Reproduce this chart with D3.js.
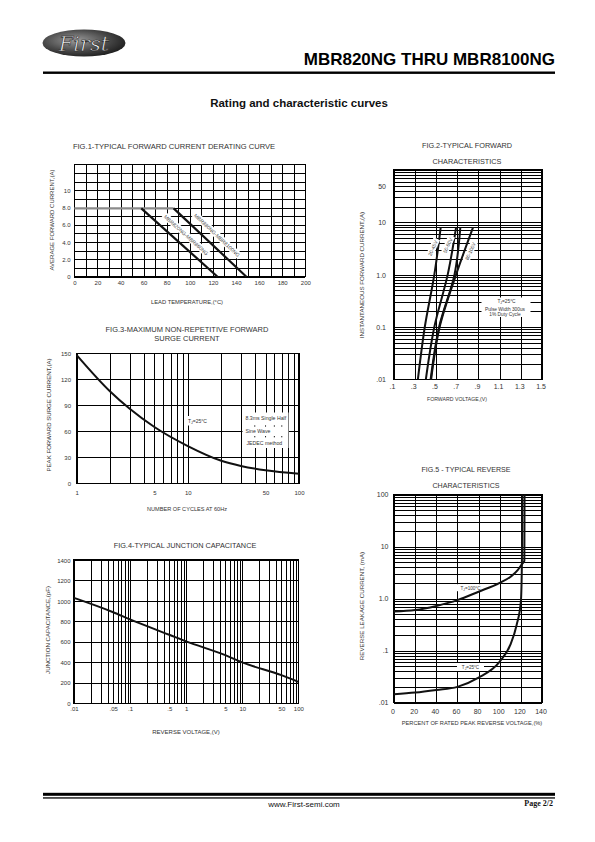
<!DOCTYPE html>
<html><head><meta charset="utf-8">
<script src="https://cdn.jsdelivr.net/npm/d3@7/dist/d3.min.js"></script>
<style>html,body{margin:0;padding:0;background:#fff;}svg{display:block}</style>
</head><body>
<svg id="page" width="595" height="842" xmlns="http://www.w3.org/2000/svg"></svg>
<script>
// ================= DATA =================
// Fig.1 – forward current derating
const fig1TempTicks = [0,20,40,60,80,100,120,140,160,180,200];
const fig1CurrentTicks = [0,2,4,6,8,10];
const fig1CurrentTickLabels = ["0","2.0","4.0","6.0","8.0","10"];
const fig1SeriesNames = ["MBR820NG-MBR860NG","MBR880NG-MBR8100NG"];
const fig1FlatTemp = [0, 86];
const fig1FlatCurrent = [7.9, 7.9];
const fig1LowTemp = [58, 124];
const fig1LowCurrent = [7.9, 0];
const fig1HighTemp = [86, 149];
const fig1HighCurrent = [7.9, 0];

// Fig.2 – forward characteristics
const fig2VoltTicks = [0.1,0.3,0.5,0.7,0.9,1.1,1.3,1.5];
const fig2VoltTickLabels = [".1",".3",".5",".7",".9","1.1","1.3","1.5"];
const fig2CurrentTicks = [50,10,1,0.1,0.01];
const fig2CurrentTickLabels = ["50","10","1.0","0.1",".01"];
const fig2Current = [0.01,0.1,1,8];
const fig2Volt20to45 = [0.33,0.395,0.485,0.545];
const fig2Volt50to60 = [0.405,0.485,0.611,0.69];
const fig2Volt50to60b = [0.45,0.53,0.675,0.73];
const fig2Volt80to100 = [0.455,0.535,0.69,0.85];
const fig2SeriesNames = ["20-45V","50-60V","80-100V"];

// Fig.3 – surge current
const fig3CycleTicks = [1,5,10,50,100];
const fig3CycleTickLabels = ["1","5","10","50","100"];
const fig3CurrentTicks = [0,30,60,90,120,150];
const fig3Cycles = [1,2,3,5,10,20,30,50,100];
const fig3Current = [148,106,86,65,43,26,20,15,11];

// Fig.4 – junction capacitance
const fig4VoltTicks = [0.01,0.05,0.1,0.5,1,5,10,50,100];
const fig4VoltTickLabels = [".01",".05",".1",".5","1","5","10","50","100"];
const fig4CapTicks = [0,200,400,600,800,1000,1200,1400];
const fig4Volt = [0.01,0.05,0.1,0.5,1,5,10,50,100];
const fig4Cap = [1030,890,820,670,605,470,400,275,210];

// Fig.5 – reverse characteristics
const fig5PctTicks = [0,20,40,60,80,100,120,140];
const fig5CurrentTicks = [100,10,1,0.1,0.01];
const fig5CurrentTickLabels = ["100","10","1.0",".1",".01"];
const fig5Pct100 = [0,20,40,60,80,100,110,117,121,123.3,123.5];
const fig5Cur100 = [0.56,0.6,0.72,0.93,1.35,2.0,2.6,3.5,4.6,5.3,100];
const fig5Pct25 = [0,20,40,60,80,100,110,116,120,121,121.4];
const fig5Cur25 = [0.0144,0.0155,0.0174,0.02,0.03,0.061,0.128,0.31,0.87,5,100];

// ================= DRAWING =================
const FONT = "'Liberation Sans', Arial, Helvetica, sans-serif";
const INK = "#333";
const svg = d3.select("#page");
const zip = (a,b) => a.map((v,i)=>[v,b[i]]);

function logGrid(lo, hi){
  const v=[];
  for(let e=Math.round(Math.log10(lo)); Math.pow(10,e) < hi*0.999; e++){
    for(let m=1;m<10;m++) v.push(+(m*Math.pow(10,e)).toPrecision(6));
  }
  v.push(hi); return v;
}
function text(g, x, y, s, size, anchor="start", extra={}){
  const t = g.append("text").attr("x",x).attr("y",y).attr("font-size",size)
    .attr("font-family",FONT).attr("text-anchor",anchor).attr("fill",extra.fill||INK).text(s);
  if(extra.weight) t.attr("font-weight",extra.weight);
  return t;
}
function tj(g, x, y, rest, size, anchor="middle"){
  const t = g.append("text").attr("x",x).attr("y",y).attr("font-size",size)
    .attr("font-family",FONT).attr("text-anchor",anchor).attr("fill",INK);
  t.append("tspan").text("T");
  t.append("tspan").attr("font-size",size*0.7).attr("dy",size*0.25).text("J");
  t.append("tspan").attr("dy",-size*0.25).text(rest);
  return t;
}
function grid(x, y, xVals, yVals){
  const [xa,xb]=x.range(), [ya,yb]=y.range();
  const g = svg.append("g");
  const style = s => { s.select(".domain").remove();
    s.selectAll(".tick line").attr("stroke","#000").attr("stroke-width",1).attr("shape-rendering","crispEdges"); };
  g.append("g").attr("transform",`translate(0,${ya})`)
    .call(d3.axisBottom(x).tickValues(xVals).tickSize(-(ya-yb)).tickFormat("")).call(style);
  g.append("g").attr("transform",`translate(${xa},0)`)
    .call(d3.axisLeft(y).tickValues(yVals).tickSize(-(xb-xa)).tickFormat("")).call(style);
  g.append("rect").attr("x",xa).attr("y",yb).attr("width",xb-xa).attr("height",ya-yb)
    .attr("fill","none").attr("stroke","#000").attr("stroke-width",1.4).attr("shape-rendering","crispEdges");
  return g;
}
function xLabels(x, vals, labels, baseY, size, dx=0){
  svg.append("g").attr("transform",`translate(${dx},${baseY})`)
    .call(d3.axisBottom(x).tickValues(vals).tickSize(0).tickPadding(0).tickFormat((d,i)=>labels[i]))
    .call(s=>{ s.select(".domain").remove();
      s.selectAll("text").attr("y",0).attr("dy",null).attr("font-size",size).attr("font-family",FONT).attr("fill",INK); });
}
function yLabels(y, vals, labels, rightX, size){
  svg.append("g").attr("transform",`translate(${rightX},0)`)
    .call(d3.axisLeft(y).tickValues(vals).tickSize(0).tickPadding(0).tickFormat((d,i)=>labels[i]))
    .call(s=>{ s.select(".domain").remove();
      s.selectAll("text").attr("x",0).attr("dy","0.35em").attr("font-size",size).attr("font-family",FONT).attr("fill",INK); });
}
function yTitle(x, y, s, size){
  text(svg, 0, 0, s, size, "middle").attr("transform",`translate(${x},${y}) rotate(-90)`);
}
function curve(x, y, pts, w=2, color="#111", kind=d3.curveMonotoneX){
  svg.append("path").datum(pts)
    .attr("d", d3.line().x(d=>x(d[0])).y(d=>y(d[1])).curve(kind))
    .attr("fill","none").attr("stroke",color).attr("stroke-width",w).attr("stroke-linecap","butt");
}
function boxedLabel(cx, cy, angle, s, size){
  const g = svg.append("g").attr("transform",`translate(${cx},${cy}) rotate(${angle})`);
  const t = text(g, 0, size*0.35, s, size, "middle", {fill:"#444"});
  const bb = t.node().getBBox();
  g.insert("rect","text").attr("x",bb.x-1.5).attr("y",bb.y-0.5).attr("width",bb.width+3).attr("height",bb.height+1).attr("fill","#fff");
}
function whiteBox(x0,y0,x1,y1){
  svg.append("rect").attr("x",x0).attr("y",y0).attr("width",x1-x0).attr("height",y1-y0).attr("fill","#fff");
}

// ---------- Header ----------
const defs = svg.append("defs");
const rg = defs.append("radialGradient").attr("id","logoGrad").attr("cx","40%").attr("cy","40%").attr("r","70%");
rg.append("stop").attr("offset","0%").attr("stop-color","#9a9a9a");
rg.append("stop").attr("offset","55%").attr("stop-color","#4a4a4a");
rg.append("stop").attr("offset","100%").attr("stop-color","#151515");
svg.append("ellipse").attr("cx",84).attr("cy",43).attr("rx",41.5).attr("ry",13.5).attr("fill","url(#logoGrad)");
svg.append("text").attr("x",84).attr("y",51).attr("text-anchor","middle")
  .attr("font-family","'DejaVu Serif','Liberation Serif',serif").attr("font-style","italic")
  .attr("font-size",21).attr("fill","#f2f2f2").attr("stroke","#222").attr("stroke-width",0.6).text("First");
text(svg, 555, 65, "MBR820NG THRU MBR8100NG", 17, "end", {weight:"bold", fill:"#000"});
svg.append("rect").attr("x",43).attr("y",71.5).attr("width",512).attr("height",2.4).attr("fill","#000");
text(svg, 299, 107, "Rating and characteristic curves", 11.5, "middle", {weight:"bold", fill:"#111"});

// ---------- Fig.1 ----------
{
  const x = d3.scaleLinear().domain([0,200]).range([74.3,305.3]);
  const y = d3.scaleLinear().domain([0,13]).range([276.7,164.3]);
  grid(x, y, d3.range(0,201,10), d3.range(0,14,1));
  text(svg, 174, 148.5, "FIG.1-TYPICAL FORWARD CURRENT DERATING CURVE", 7.6, "middle");
  xLabels(x, fig1TempTicks, fig1TempTicks.map(String), 284.5, 6);
  yLabels(y, fig1CurrentTicks, fig1CurrentTickLabels, 70.5, 6);
  text(svg, 187, 304, "LEAD TEMPERATURE,(°C)", 5.8, "middle");
  yTitle(53.5, 220, "AVERAGE FORWARD CURRENT,(A)", 6);
  curve(x, y, zip(fig1FlatTemp, fig1FlatCurrent), 2.2, "#8a8a8a");
  curve(x, y, zip(fig1LowTemp, fig1LowCurrent), 2.2, "#111");
  curve(x, y, zip(fig1HighTemp, fig1HighCurrent), 2.2, "#111");
  const series = [[fig1LowTemp, fig1LowCurrent],[fig1HighTemp, fig1HighCurrent]];
  series.forEach((s,i)=>{
    const p0=[x(s[0][0]),y(s[1][0])], p1=[x(s[0][1]),y(s[1][1])];
    const ang = Math.atan2(p1[1]-p0[1], p1[0]-p0[0]);
    const mx=(p0[0]+p1[0])/2, my=(p0[1]+p1[1])/2;
    const off=10;
    boxedLabel(mx + off*Math.sin(ang), my - off*Math.cos(ang), ang*180/Math.PI, fig1SeriesNames[i], 5.2);
  });
}

// ---------- Fig.2 ----------
{
  const x = d3.scaleLinear().domain([0.1,1.5]).range([393.5,542]);
  const y = d3.scaleLog().domain([0.01,100]).range([379.3,170]);
  grid(x, y, d3.range(0.1,1.51,0.2), logGrid(0.01,100));
  text(svg, 467, 148, "FIG.2-TYPICAL FORWARD", 7.3, "middle");
  text(svg, 467, 164, "CHARACTERISTICS", 7.3, "middle");
  xLabels(x, fig2VoltTicks, fig2VoltTickLabels, 389, 7, -1.5);
  yLabels(y, fig2CurrentTicks, fig2CurrentTickLabels, 386, 7);
  text(svg, 457, 400.5, "FORWARD VOLTAGE,(V)", 5.2, "middle");
  yTitle(364, 275, "INSTANTANEOUS FORWARD CURRENT,(A)", 6.2);
  whiteBox(481.5, 297.5, 530.5, 317);
  tj(svg, 506.5, 302.8, "=25°C", 4.8);
  text(svg, 505, 311.2, "Pulse Width 300us", 4.8, "middle");
  text(svg, 505, 315.7, "1% Duty Cycle", 4.8, "middle");
  const curves = [fig2Volt20to45, fig2Volt50to60, fig2Volt50to60b, fig2Volt80to100];
  curves.forEach(v => curve(x, y, zip(v, fig2Current), 2, "#111", d3.curveCatmullRom.alpha(0.5)));
  const atI = (v, I) => {
    for(let i=0;i<fig2Current.length-1;i++){
      if(I>=fig2Current[i] && I<=fig2Current[i+1]){
        const t=(Math.log(I)-Math.log(fig2Current[i]))/(Math.log(fig2Current[i+1])-Math.log(fig2Current[i]));
        return v[i]+t*(v[i+1]-v[i]);
      }
    } return v[v.length-1];
  };
  boxedLabel(x(atI(fig2Volt20to45,3.2))-5, y(3.2), -66, fig2SeriesNames[0], 5);
  boxedLabel(x(atI(fig2Volt50to60,3.6))-5, y(3.6), -66, fig2SeriesNames[1], 5);
  boxedLabel(x(atI(fig2Volt80to100,2.8))+6, y(2.8), -66, fig2SeriesNames[2], 5);
}

// ---------- Fig.3 ----------
{
  const x = d3.scaleLog().domain([1,100]).range([76.7,299]);
  const y = d3.scaleLinear().domain([0,150]).range([483.3,353.3]);
  grid(x, y, logGrid(1,100), fig3CurrentTicks);
  text(svg, 187, 331.5, "FIG.3-MAXIMUM NON-REPETITIVE FORWARD", 7.5, "middle");
  text(svg, 187, 340.5, "SURGE CURRENT", 7.5, "middle");
  xLabels(x, fig3CycleTicks, fig3CycleTickLabels, 495, 6);
  yLabels(y, fig3CurrentTicks, fig3CurrentTicks.map(String), 71, 6);
  text(svg, 187, 511, "NUMBER OF CYCLES AT 60Hz", 5.6, "middle");
  yTitle(50.5, 415, "PEAK FORWARD SURGE CURRENT,(A)", 6.1);
  whiteBox(186, 416, 207, 425.5);
  tj(svg, 188, 423.2, "=25°C", 5, "start");
  whiteBox(242.5, 412.5, 288.5, 448);
  text(svg, 245.5, 420.3, "8.3ms Single Half", 5.2);
  text(svg, 245.5, 432.5, "Sine Wave", 5.2);
  text(svg, 246.5, 444.5, "JEDEC method", 5.2);
  logGrid(1,100).filter(v => x(v)>243 && x(v)<288).forEach(v=>{
    [426, 436.7].forEach(yy => svg.append("rect").attr("x",x(v)-0.5).attr("y",yy-0.6).attr("width",1).attr("height",1.2).attr("fill","#000"));
  });
  curve(x, y, zip(fig3Cycles, fig3Current), 2, "#111");
}

// ---------- Fig.4 ----------
{
  const x = d3.scaleLog().domain([0.01,100]).range([74,298.3]);
  const y = d3.scaleLinear().domain([0,1400]).range([703.3,560]);
  grid(x, y, logGrid(0.01,100), fig4CapTicks);
  text(svg, 185, 548, "FIG.4-TYPICAL JUNCTION CAPACITANCE", 7.3, "middle");
  xLabels(x, fig4VoltTicks, fig4VoltTickLabels, 711, 6);
  yLabels(y, fig4CapTicks, fig4CapTicks.map(String), 70.5, 6);
  text(svg, 186, 734, "REVERSE VOLTAGE,(V)", 6, "middle");
  yTitle(50, 630, "JUNCTION CAPACITANCE,(pF)", 6.1);
  curve(x, y, zip(fig4Volt, fig4Cap), 2, "#111");
}

// ---------- Fig.5 ----------
{
  const x = d3.scaleLinear().domain([0,140]).range([394,542]);
  const y = d3.scaleLog().domain([0.01,100]).range([702.5,494.5]);
  grid(x, y, fig5PctTicks, logGrid(0.01,100));
  text(svg, 466, 472, "FIG.5 - TYPICAL REVERSE", 7.1, "middle");
  text(svg, 466, 488, "CHARACTERISTICS", 7.1, "middle");
  xLabels(x, fig5PctTicks, fig5PctTicks.map(String), 713.5, 7, -1.5);
  yLabels(y, fig5CurrentTicks, fig5CurrentTickLabels, 388.5, 7);
  text(svg, 472, 725, "PERCENT OF RATED PEAK REVERSE VOLTAGE,(%)", 5.7, "middle");
  yTitle(364, 606, "REVERSE LEAKAGE CURRENT, (mA)", 6.2);
  whiteBox(457, 584.2, 484, 591.2);
  tj(svg, 470.5, 589.6, "=100°C", 4.6);
  whiteBox(457, 663, 484, 671);
  tj(svg, 470.5, 668.9, "=25°C", 4.6);
  curve(x, y, zip(fig5Pct100, fig5Cur100), 2, "#111");
  curve(x, y, zip(fig5Pct25, fig5Cur25), 2, "#111");
}

// ---------- Footer ----------
svg.append("rect").attr("x",43).attr("y",792.8).attr("width",512).attr("height",3).attr("fill","#000");
svg.append("rect").attr("x",43).attr("y",797.3).attr("width",512).attr("height",1.3).attr("fill","#000");
text(svg, 304, 806.5, "www.First-semi.com", 8, "middle", {fill:"#111"});
svg.append("text").attr("x",553).attr("y",806).attr("text-anchor","end")
  .attr("font-family","'Liberation Serif','Times New Roman',serif").attr("font-weight","bold")
  .attr("font-size",8).attr("fill","#111").text("Page 2/2");
</script>
</body></html>
